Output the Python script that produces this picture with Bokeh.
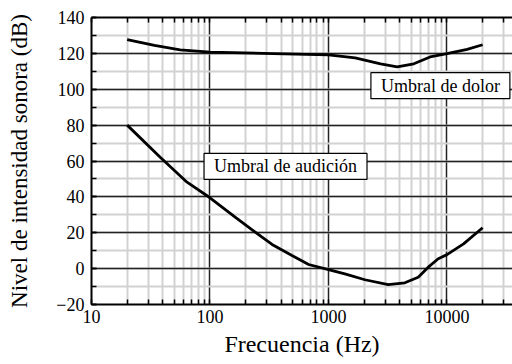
from bokeh.plotting import figure
from bokeh.models import FixedTicker, LogAxis, Label, PrintfTickFormatter
from bokeh.embed import file_html
from bokeh.resources import INLINE

# Umbral de audición (hearing threshold)
aud_freq = [20, 38, 64, 100, 163, 275, 334, 492, 680, 1000, 1375, 2030, 3190, 4410, 5720, 6950, 8440, 10000, 13800, 20000]
aud_db = [80, 62.1, 48.2, 39.5, 28.7, 17.5, 13.5, 7.3, 2.3, -0.5, -2.9, -6.2, -8.9, -7.9, -4.8, 0.8, 5.5, 7.8, 13.8, 22.8]

# Umbral de dolor (pain threshold)
dol_freq = [20, 34, 56, 100, 340, 1000, 1680, 2750, 3800, 5250, 7200, 10000, 14800, 20000]
dol_db = [127.7, 124.4, 122.0, 120.7, 119.9, 119.2, 117.5, 114.2, 112.5, 114.2, 118.0, 119.8, 122.2, 124.8]

x_major = [10, 100, 1000, 10000]
x_minor = [m * d for d in (10, 100, 1000, 10000) for m in range(2, 10)]
y_major = [-20, 0, 20, 40, 60, 80, 100, 120, 140]
y_minor = list(range(-20, 141, 10))

FONT = "Liberation Serif"

p = figure(width=512, height=364, x_axis_type="log",
           x_range=(10, 10 ** 4.553), y_range=(-20, 140),
           output_backend="svg", toolbar_location=None,
           min_border_left=91, min_border_top=17, min_border_bottom=60, min_border_right=0)
p.outline_line_color = None
p.background_fill_color = "white"
p.border_fill_color = "white"

xt = FixedTicker(ticks=x_major, minor_ticks=x_minor)
yt = FixedTicker(ticks=y_major, minor_ticks=y_minor)

p.xaxis.ticker = xt
p.yaxis.ticker = yt
p.xgrid.ticker = xt
p.ygrid.ticker = yt
p.xaxis.formatter = PrintfTickFormatter(format="%d")

for g in (p.xgrid, p.ygrid):
    g.grid_line_color = "#222222"
    g.grid_line_width = 1.5
    g.minor_grid_line_color = "#d2d2d2"
    g.minor_grid_line_width = 2

for ax in (p.xaxis, p.yaxis):
    ax.axis_line_color = "black"
    ax.axis_line_width = 2
    ax.major_tick_in = 5
    ax.major_tick_out = 0
    ax.minor_tick_in = 5
    ax.minor_tick_out = 0
    ax.major_tick_line_color = "black"
    ax.minor_tick_line_color = "black"
    ax.major_tick_line_width = 1.5
    ax.minor_tick_line_width = 1.5
    ax.major_label_text_font = FONT
    ax.major_label_text_font_size = "18px"
    ax.major_label_text_color = "black"
    ax.axis_label_text_font = FONT
    ax.axis_label_text_font_style = "normal"
    ax.axis_label_text_color = "black"

p.xaxis.axis_label = "Frecuencia (Hz)"
p.xaxis.axis_label_text_font_size = "24px"
p.xaxis.major_label_standoff = 5
p.xaxis.axis_label_standoff = 5

p.yaxis.axis_label = "Nivel de intensidad sonora (dB)"
p.yaxis.axis_label_text_font_size = "23px"
p.yaxis.major_label_standoff = 7
p.yaxis.axis_label_standoff = 21

top = LogAxis(ticker=xt, major_label_text_font_size="1px", major_label_text_alpha=0,
              major_label_standoff=0,
              axis_line_color="black", axis_line_width=2,
              major_tick_in=5, major_tick_out=0, minor_tick_in=5, minor_tick_out=0,
              major_tick_line_width=1.5, minor_tick_line_width=1.5)
p.add_layout(top, "above")

p.line(aud_freq, aud_db, line_color="black", line_width=2.8)
p.line(dol_freq, dol_db, line_color="black", line_width=2.8)

for txt, xv, yv in (("Umbral de audición", 434, 57), ("Umbral de dolor", 8800, 102)):
    p.add_layout(Label(x=xv, y=yv, text=txt, text_align="center", text_baseline="middle",
                       text_font=FONT, text_font_size="18px", text_color="black",
                       background_fill_color="white", border_line_color="black",
                       border_line_width=1.2, padding=(10, 3)))

open("out.html", "w").write(file_html(p, INLINE))
